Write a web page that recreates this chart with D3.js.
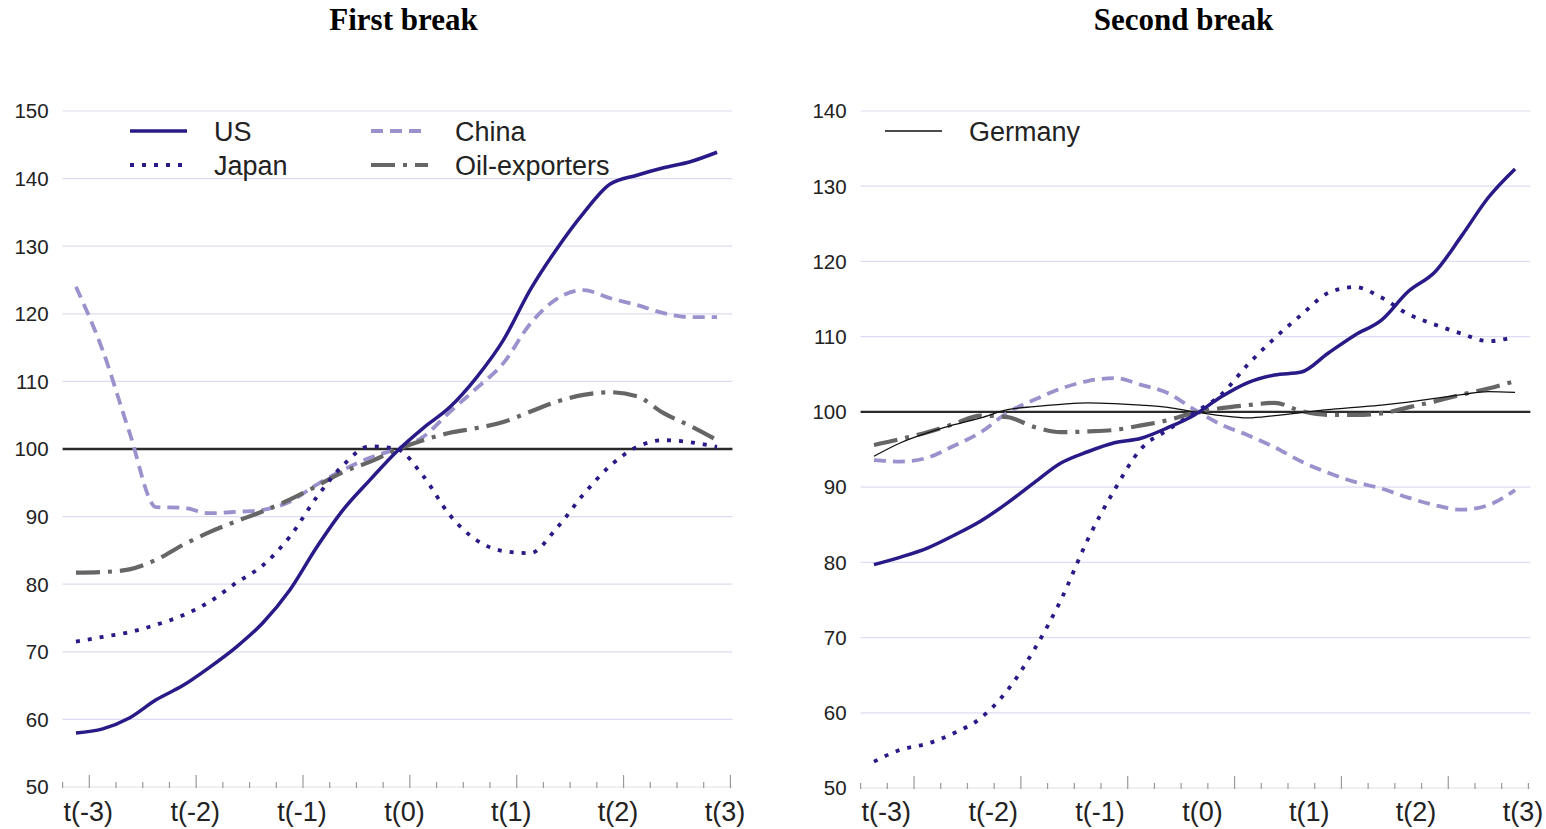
<!DOCTYPE html>
<html>
<head>
<meta charset="utf-8">
<script src="https://cdn.jsdelivr.net/npm/d3@7"></script>
<style>
  html, body { margin: 0; padding: 0; background: #fff; }
  svg { display: block; }
  .title { font-family: "Liberation Serif", "Times New Roman", serif; font-weight: bold; font-size: 31px; fill: #000; }
  .ylab { font-family: "Liberation Sans", Arial, sans-serif; font-size: 20.5px; fill: #222; }
  .xlab { font-family: "Liberation Sans", Arial, sans-serif; font-size: 27px; fill: #222; }
  .leg  { font-family: "Liberation Sans", Arial, sans-serif; font-size: 27px; fill: #222; }
</style>
</head>
<body>
<svg id="chart" width="1546" height="829"></svg>
<script>
// Quarters relative to the break, t(-3) .. t(3)
const quarters = d3.range(-12, 13);
const periodLabels = ["t(-3)", "t(-2)", "t(-1)", "t(0)", "t(1)", "t(2)", "t(3)"];

// First break (index, t(0) = 100)
const firstUS     = [58.0, 58.6, 60.2, 62.9, 65.0, 67.7, 70.7, 74.3, 79.1, 85.4, 91.0, 95.4, 99.6,
                     103.1, 106.2, 110.6, 116.1, 123.5, 129.6, 134.9, 139.2, 140.5, 141.6, 142.5, 143.9];
const firstJapan  = [71.5, 72.2, 72.9, 74.0, 75.4, 77.4, 80.2, 82.8, 87.0, 92.8, 97.6, 100.4, 100.0,
                     96.0, 90.2, 86.5, 84.9, 84.6, 88.3, 93.3, 97.5, 100.3, 101.3, 101.0, 100.3];
const firstChina  = [124.0, 114.6, 102.5, 91.4, 91.3, 90.5, 90.7, 91.0, 92.2, 94.7, 96.9, 98.7, 100.0,
                     101.8, 105.5, 109.0, 112.7, 118.5, 122.2, 123.5, 122.3, 121.3, 120.1, 119.5, 119.5];
const firstOil    = [81.7, 81.8, 82.2, 83.6, 85.8, 87.7, 89.3, 90.8, 92.5, 94.5, 96.6, 98.1, 99.9,
                     101.3, 102.4, 103.1, 104.0, 105.5, 107.0, 108.0, 108.4, 107.8, 105.3, 103.4, 101.3];

// Second break (index, t(0) = 100)
const secondUS      = [79.7, 80.7, 81.9, 83.6, 85.5, 87.9, 90.6, 93.2, 94.7, 95.9, 96.5, 97.9, 99.6,
                       102.0, 103.9, 104.9, 105.3, 107.8, 110.2, 112.2, 116.0, 118.6, 123.4, 128.5, 132.3];
const secondJapan   = [53.5, 55.1, 55.9, 57.3, 59.3, 63.0, 68.4, 75.0, 83.0, 89.6, 95.1, 97.6, 99.9,
                       102.3, 106.3, 109.8, 112.9, 115.8, 116.6, 115.2, 113.0, 111.6, 110.4, 109.4, 110.0];
const secondChina   = [93.6, 93.4, 93.9, 95.5, 97.3, 99.9, 101.6, 103.1, 104.1, 104.5, 103.6, 102.5, 100.3,
                       98.3, 96.9, 95.3, 93.4, 91.9, 90.7, 89.8, 88.6, 87.6, 87.0, 87.6, 89.6];
const secondOil     = [95.6, 96.4, 97.3, 98.4, 99.5, 99.3, 98.0, 97.3, 97.4, 97.6, 98.2, 98.9, 99.9,
                       100.5, 100.9, 101.2, 100.1, 99.6, 99.6, 99.8, 100.6, 101.4, 102.3, 103.1, 104.1];
const secondGermany = [94.1, 95.9, 97.2, 98.3, 99.2, 100.3, 100.7, 101.0, 101.2, 101.1, 100.9, 100.6, 100.0,
                       99.5, 99.2, 99.5, 99.9, 100.3, 100.6, 100.9, 101.3, 101.8, 102.3, 102.7, 102.6];

const firstYTicks  = d3.range(50, 151, 10);
const secondYTicks = d3.range(50, 141, 10);

// Line styles per series
const styles = {
  US:      { stroke: "#281a87", width: 3.5, dash: null },
  Japan:   { stroke: "#281a87", width: 3.8, dash: "4 8" },
  China:   { stroke: "#9a92cc", width: 3.8, dash: "12 7" },
  Oil:     { stroke: "#666666", width: 4.2, dash: "24 8 4 8" },
  Germany: { stroke: "#111111", width: 1.3, dash: null }
};

const svg = d3.select("#chart");

function panel(cfg) {
  const g = svg.append("g");
  const x = d3.scaleLinear().domain([-12.5, 12.5]).range([cfg.left, cfg.right]);
  const y = d3.scaleLinear().domain([50, cfg.yMax]).range([cfg.bottom, cfg.top]);

  // title
  g.append("text").attr("class", "title")
    .attr("x", (cfg.left + cfg.right) / 2 + cfg.titleDx).attr("y", 30)
    .attr("text-anchor", "middle").text(cfg.title);

  // horizontal grid
  g.selectAll("line.grid").data(cfg.yTicks.filter(v => v !== 50 && v !== 100)).join("line")
    .attr("class", "grid")
    .attr("x1", x.range()[0]).attr("x2", x.range()[1] + 2)
    .attr("y1", d => y(d)).attr("y2", d => y(d))
    .attr("stroke", "#dcdcf2").attr("stroke-width", 1.2);

  // baseline at 50
  g.append("line")
    .attr("x1", x.range()[0]).attr("x2", x.range()[1] + 2)
    .attr("y1", y(50)).attr("y2", y(50))
    .attr("stroke", "#e2e2e8").attr("stroke-width", 1.2);

  // y labels
  g.selectAll("text.ylab").data(cfg.yTicks).join("text")
    .attr("class", "ylab")
    .attr("x", cfg.left - 14).attr("y", d => y(d)).attr("dy", "0.36em")
    .attr("text-anchor", "end").text(d => d);

  // quarterly ticks, longer ones marking years
  const tickVals = d3.range(-12.5, 12.51, 1);
  g.selectAll("line.tick").data(tickVals).join("line")
    .attr("class", "tick")
    .attr("x1", d => x(d)).attr("x2", d => x(d))
    .attr("y1", y(50) + 1)
    .attr("y2", d => (Math.abs(((d - cfg.majorStart) % 4 + 4) % 4) < 1e-6) ? y(50) - 12 : y(50) - 5)
    .attr("stroke", "#9a9a9a").attr("stroke-width", 1.2);

  // period labels, starting at each year boundary
  g.selectAll("text.xlab").data(periodLabels).join("text")
    .attr("class", "xlab")
    .attr("x", (d, i) => x(-12.5 + 4 * i) + 1).attr("y", 821)
    .attr("text-anchor", "start").text(d => d);

  // reference line at 100
  g.append("line")
    .attr("x1", x.range()[0]).attr("x2", x.range()[1] + 2)
    .attr("y1", y(100)).attr("y2", y(100))
    .attr("stroke", "#2a2a2a").attr("stroke-width", 2.4);

  const line = d3.line()
    .x((d, i) => x(quarters[i]))
    .y(d => y(d))
    .curve(d3.curveMonotoneX);

  cfg.series.forEach(s => {
    const st = styles[s.key];
    g.append("path")
      .datum(s.values)
      .attr("d", line)
      .attr("fill", "none")
      .attr("stroke", st.stroke)
      .attr("stroke-width", st.width)
      .attr("stroke-dasharray", st.dash)
      .attr("stroke-linejoin", "round");
  });

  // legend
  cfg.legend.forEach(l => {
    const st = styles[l.key];
    g.append("line")
      .attr("x1", l.x).attr("x2", l.x + 57)
      .attr("y1", l.y).attr("y2", l.y)
      .attr("stroke", st.stroke)
      .attr("stroke-width", st.width)
      .attr("stroke-dasharray", st.dash);
    g.append("text").attr("class", "leg")
      .attr("x", l.x + 84).attr("y", l.y + 9.5)
      .text(l.label);
  });
}

panel({
  title: "First break", titleDx: 7,
  left: 62.6, right: 730.4, top: 111, bottom: 787, yMax: 150,
  yTicks: firstYTicks, majorStart: -11.5,
  series: [
    { key: "China", values: firstChina },
    { key: "Oil",   values: firstOil },
    { key: "Japan", values: firstJapan },
    { key: "US",    values: firstUS }
  ],
  legend: [
    { key: "US",    label: "US",            x: 130, y: 131 },
    { key: "Japan", label: "Japan",         x: 130, y: 165 },
    { key: "China", label: "China",         x: 371, y: 131 },
    { key: "Oil",   label: "Oil-exporters", x: 371, y: 165 }
  ]
});

panel({
  title: "Second break", titleDx: -11,
  left: 860.6, right: 1528.4, top: 111, bottom: 788, yMax: 140,
  yTicks: secondYTicks, majorStart: -10.5,
  series: [
    { key: "China",   values: secondChina },
    { key: "Oil",     values: secondOil },
    { key: "Germany", values: secondGermany },
    { key: "Japan",   values: secondJapan },
    { key: "US",      values: secondUS }
  ],
  legend: [
    { key: "Germany", label: "Germany", x: 885, y: 131 }
  ]
});
</script>
</body>
</html>
